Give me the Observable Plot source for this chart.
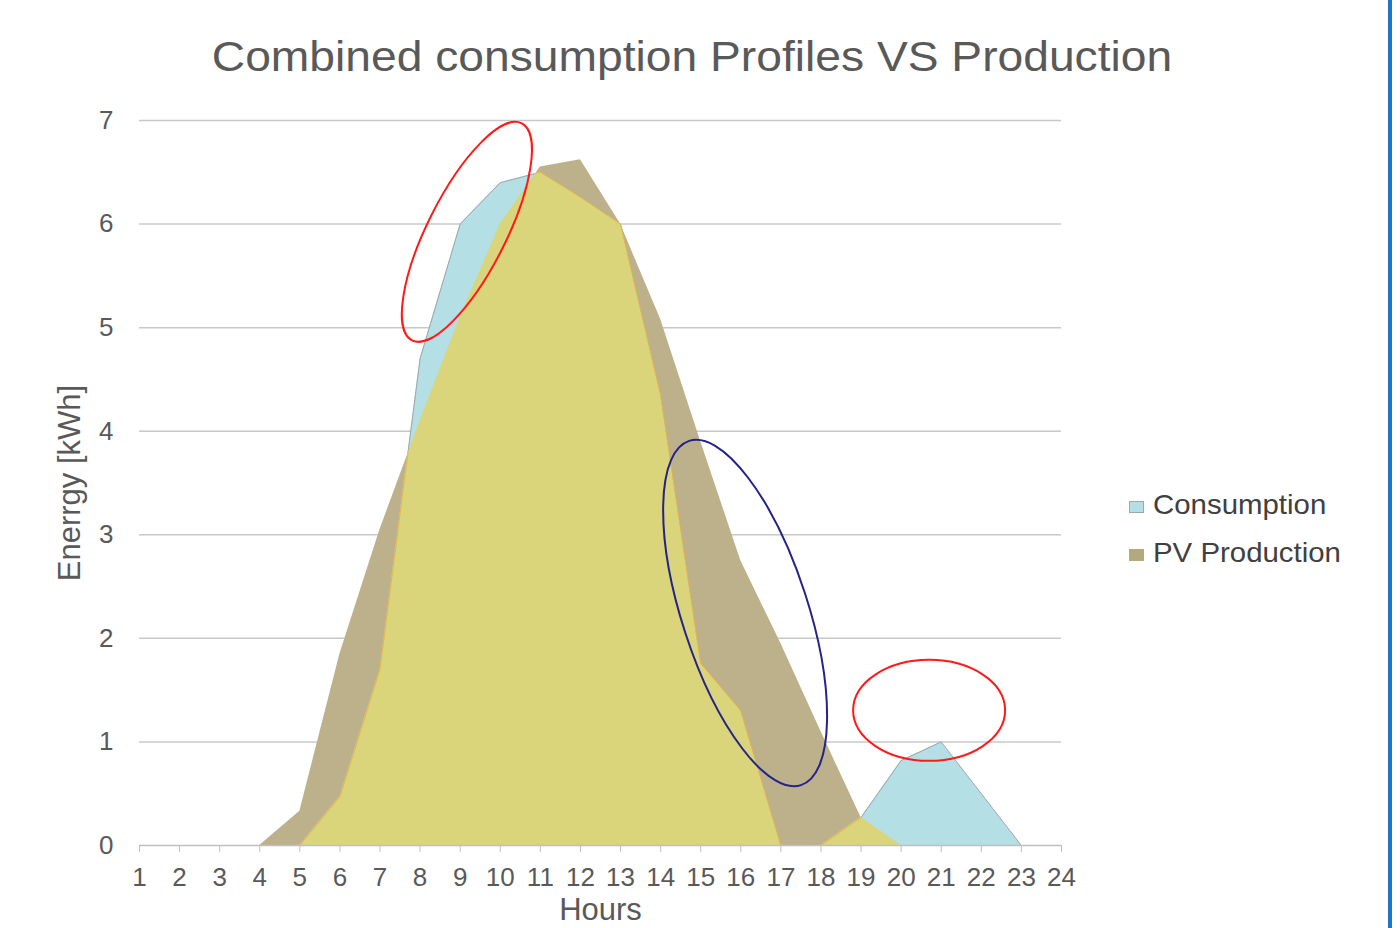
<!DOCTYPE html>
<html>
<head>
<meta charset="utf-8">
<script src="https://cdn.jsdelivr.net/npm/d3@7"></script>
<script src="https://cdn.jsdelivr.net/npm/@observablehq/plot@0.6"></script>
<style>
  html, body { margin: 0; padding: 0; background: #fff; }
  #wrap { position: relative; width: 1400px; height: 928px; overflow: hidden; background: #fff;
          font-family: "Liberation Sans", Arial, sans-serif; }
  #title { position: relative; height: 95px; }
  #title span { position: absolute; left: 691.5px; top: 36px; white-space: nowrap;
                font-size: 42px; line-height: 42px; color: #595959;
                transform: translateX(-50%) scaleX(1.1); }
  .lg { position: absolute; font-size: 28px; line-height: 28px; color: #404040; white-space: nowrap;
        transform-origin: 0 50%; transform: scaleX(1.05); }
  .sw { position: absolute; width: 15px; height: 12px; box-sizing: border-box; }
  #edge { position: absolute; left: 1388px; top: 0; width: 4px; height: 928px; background: #1b75c9; }
</style>
</head>
<body>
<div id="wrap">
  <div id="title"><span></span></div>
  <div id="chart"></div>
  <div id="edge"></div>
</div>
<script>
// ---- data ----
const titleText = "Combined consumption Profiles VS Production";
const yLabel = "Enerrgy [kWh]";
const xLabel = "Hours";
const seriesNames = ["Consumption", "PV Production"];
const hours = [1,2,3,4,5,6,7,8,9,10,11,12,13,14,15,16,17,18,19,20,21,22,23,24];
const consumption = [0,0,0,0,0,0.47,1.7,4.7,6.0,6.4,6.5,6.26,6.0,4.35,1.76,1.3,0,0,0.27,0.82,1.0,0.5,0,0];
const pvProduction = [0,0,0,0,0.33,1.85,3.05,4.1,5.1,6.0,6.55,6.62,6.0,5.08,3.9,2.75,1.95,1.1,0.27,0,0,0,0,0];
const yTicks = [0,1,2,3,4,5,6,7];
// annotation ellipse centres (hour, kWh)
const noteHours = [9.18, 16.12, 20.71];
const noteValues = [5.92, 2.24, 1.30];

// ---- build ----
const rows = hours.map((h, i) => ({hour: h, consumption: consumption[i], pv: pvProduction[i]}));
document.querySelector("#title span").textContent = titleText;

const chart = Plot.plot({
  width: 1400,
  height: 833,
  marginTop: 25,
  marginBottom: 83,
  marginLeft: 139,
  marginRight: 339,
  x: {domain: [hours[0], hours[hours.length - 1]]},
  y: {domain: [yTicks[0], yTicks[yTicks.length - 1]]},
  style: {fontFamily: "'Liberation Sans', Arial, sans-serif", fontSize: "26px", color: "#595959", background: "white"},
  marks: [
    Plot.ruleY(yTicks.filter(d => d > 0), {x1: hours[0], x2: hours[hours.length - 1], stroke: "#c8c8c8", strokeWidth: 1.5}),
    Plot.areaY(rows, {x: "hour", y: "pv", fill: "#bdb18b"}),
    Plot.areaY(rows, {x: "hour", y: "consumption", fill: "#b3dfe5"}),
    Plot.lineY(rows, {x: "hour", y: "consumption", stroke: "#9ea7aa", strokeWidth: 1}),
    Plot.areaY(rows, {x: "hour", y: "consumption", fill: "#dad47a"}),
    Plot.lineY(rows, {x: "hour", y: "consumption", stroke: "#e6b64a", strokeWidth: 1}),
    Plot.ruleY([0], {x1: hours[0], x2: hours[hours.length - 1], stroke: "#bfbfbf", strokeWidth: 1.5}),
    Plot.axisX({ticks: hours, tickSize: 7, tickPadding: 15, tickFormat: d => String(d),
                stroke: "#bfbfbf", fill: "#595959", fontSize: 26, label: null}),
    Plot.axisY({ticks: yTicks, tickSize: 0, tickPadding: 26, tickFormat: d => String(d),
                fill: "#595959", fontSize: 26, label: null}),
    Plot.text([yLabel], {frameAnchor: "left", textAnchor: "middle", lineAnchor: "middle", dx: -69, rotate: -90, fontSize: 31, fill: "#595959"}),
    Plot.text([xLabel], {frameAnchor: "bottom", lineAnchor: "middle", dy: 65, fontSize: 31, fill: "#595959"})
  ]
});
document.getElementById("chart").appendChild(chart);

// overlap (self-consumed production) = consumption clipped to the PV area
const ns = "http://www.w3.org/2000/svg";
const svg = chart.tagName.toLowerCase() === "svg" ? chart : chart.querySelector("svg");
const areas = svg.querySelectorAll('g[aria-label="area"]');
const lines = svg.querySelectorAll('g[aria-label="line"]');
const pvPath = areas[0].querySelector("path");
const defs = document.createElementNS(ns, "defs");
const clip = document.createElementNS(ns, "clipPath");
clip.setAttribute("id", "pvclip");
const cp = document.createElementNS(ns, "path");
cp.setAttribute("d", pvPath.getAttribute("d"));
clip.appendChild(cp);
defs.appendChild(clip);
svg.insertBefore(defs, svg.firstChild);
areas[2].setAttribute("clip-path", "url(#pvclip)");
lines[1].setAttribute("clip-path", "url(#pvclip)");

// hand-drawn highlight ellipses
const xs = chart.scale("x"), ys = chart.scale("y");
const noteStyle = [
  {rx: 121.6, ry: 39.2, rot: -63.2, color: "#ff1a1a"},
  {rx: 181, ry: 63, rot: 72, color: "#23238a"},
  {rx: 76, ry: 50.5, rot: 0, color: "#ff1a1a"}
];
noteHours.forEach((h, i) => {
  const cx = xs.apply(h), cy = ys.apply(noteValues[i]);
  const s = noteStyle[i];
  const e = document.createElementNS(ns, "ellipse");
  e.setAttribute("cx", cx); e.setAttribute("cy", cy);
  e.setAttribute("rx", s.rx); e.setAttribute("ry", s.ry);
  e.setAttribute("transform", `rotate(${s.rot} ${cx} ${cy})`);
  e.setAttribute("fill", "none"); e.setAttribute("stroke", s.color); e.setAttribute("stroke-width", 2);
  svg.appendChild(e);
});

// legend
const wrap = document.getElementById("wrap");
const legendFill = ["#b3dfe5", "#b3aa7c"];
const legendBorder = ["#9aa9ad", "#b3aa7c"];
seriesNames.forEach((name, i) => {
  const top = 491 + i * 48;
  const sw = document.createElement("div");
  sw.className = "sw";
  sw.style.left = "1129px";
  sw.style.top = (top + 10) + "px";
  sw.style.background = legendFill[i];
  sw.style.border = "1px solid " + legendBorder[i];
  wrap.appendChild(sw);
  const t = document.createElement("div");
  t.className = "lg";
  t.style.left = "1153px";
  t.style.top = top + "px";
  t.textContent = name;
  wrap.appendChild(t);
});
</script>
</body>
</html>
